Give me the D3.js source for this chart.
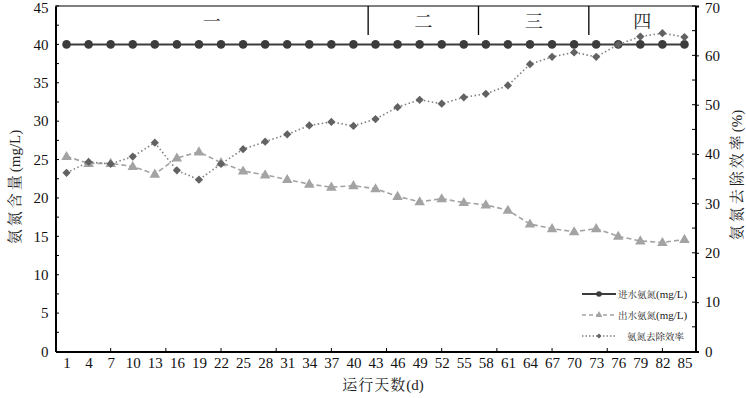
<!DOCTYPE html>
<html><head><meta charset="utf-8">
<script src="https://cdn.jsdelivr.net/npm/d3@7"></script>
<style>body{margin:0;background:#fff}svg{display:block}</style>
</head><body>
<svg id="c" width="746" height="398"></svg>
<script>
const days = [1,4,7,10,13,16,19,22,25,28,31,34,37,40,43,46,49,52,55,58,61,64,67,70,73,76,79,82,85];
const influent = [40,40,40,40,40,40,40,40,40,40,40,40,40,40,40,40,40,40,40,40,40,40,40,40,40,40,40,40,40];
const effluent = [25.4,24.5,24.5,24.1,23.1,25.2,26.0,24.6,23.5,23.0,22.4,21.8,21.4,21.6,21.2,20.2,19.5,19.9,19.4,19.1,18.4,16.6,16.0,15.6,16.0,15.0,14.4,14.2,14.6];
const efficiency = [36.2,38.4,38.0,39.5,42.3,36.7,34.8,38.0,41.0,42.5,44.0,45.8,46.5,45.7,47.1,49.5,51.0,50.2,51.5,52.2,53.9,58.2,59.7,60.6,59.7,62.2,63.8,64.5,63.7];
const leftTicks = [0,5,10,15,20,25,30,35,40,45];
const rightTicks = [0,10,20,30,40,50,60,70];
const phaseBounds = [42,57,72];
const phaseLabels = ["一","二","三","四"];
const legendLabels = [["进水氨氮","(mg/L)"],["出水氨氮","(mg/L)"],["氨氮去除效率",""]];
const xTitle = ["运行天数","(d)"];
const yLeftTitle = ["氨氮含量","(mg/L)"];
const yRightTitle = ["氨氮去除效率","(%)"];

const svg = d3.select("#c");
const L=55.5, R=695.5, T=6, B=351.5;
const serif = "'Liberation Serif','Noto Serif CJK SC','Noto Sans CJK SC',serif";
const x = d3.scaleLinear().domain([-0.5,86.5]).range([L,R]);
const yL = d3.scaleLinear().domain([0,45]).range([B,T]);
const yR = d3.scaleLinear().domain([0,70]).range([B,T]);

function twoPart(sel, parts, cjkSpacing, cjkSize, latSize){
  const a = sel.append("tspan").style("letter-spacing", cjkSpacing+"px").text(parts[0]);
  if(cjkSize) a.style("font-size", cjkSize+"px");
  const b = sel.append("tspan").text(parts[1]);
  if(latSize) b.style("font-size", latSize+"px");
}

// top border
svg.append("line").attr("x1",L).attr("x2",R).attr("y1",T).attr("y2",T).attr("stroke","#000").attr("stroke-width",1.2);

// phase separators and labels
const edges = [-0.5, ...phaseBounds, 86.5];
phaseBounds.forEach(d=>{
  svg.append("line").attr("x1",x(d)).attr("x2",x(d)).attr("y1",T).attr("y2",35).attr("stroke","#000").attr("stroke-width",1.3);
});
phaseLabels.forEach((t,i)=>{
  svg.append("text").attr("x",(x(edges[i])+x(edges[i+1]))/2).attr("y",28)
    .attr("text-anchor","middle").style("font-family",serif).style("font-size","18px").attr("fill","#222").text(t);
});

// left axis
const gL = svg.append("g").attr("transform",`translate(${L},0)`)
  .call(d3.axisLeft(yL).tickValues(leftTicks).tickSize(0).tickPadding(7));
gL.select(".domain").attr("stroke-width",2);
gL.selectAll("text").style("font-family",serif).style("font-size","15px").attr("fill","#111");
gL.selectAll(".tick").filter(d=>d===45).select("text").attr("dy","0.40em");
d3.range(0,45.01,2.5).forEach(v=>{
  svg.append("line").attr("x1",L).attr("x2",L+3.5).attr("y1",yL(v)).attr("y2",yL(v)).attr("stroke","#000").attr("stroke-width",1);
});

// right axis
const gR = svg.append("g").attr("transform",`translate(${R},0)`)
  .call(d3.axisRight(yR).tickValues(rightTicks).tickSize(3.5).tickPadding(6));
gR.select(".domain").attr("stroke-width",2);
gR.selectAll("text").style("font-family",serif).style("font-size","15px").attr("fill","#111");
gR.selectAll(".tick").filter(d=>d===70).select("text").attr("dy","0.40em");
d3.range(0,70.01,5).forEach(v=>{
  svg.append("line").attr("x1",R-3.5).attr("x2",R).attr("y1",yR(v)).attr("y2",yR(v)).attr("stroke","#000").attr("stroke-width",1);
});

// bottom axis
const gB = svg.append("g").attr("transform",`translate(0,${B})`)
  .call(d3.axisBottom(x).tickValues(days).tickSize(0).tickPadding(6).tickFormat(d3.format("d")));
gB.select(".domain").attr("stroke-width",2);
gB.selectAll("text").style("font-family",serif).style("font-size","15px").attr("fill","#111");
d3.range(1,12).forEach(k=>{
  const xv = x(-0.5+7.5*k);
  svg.append("line").attr("x1",xv).attr("x2",xv).attr("y1",B).attr("y2",B-3.5).attr("stroke","#000").attr("stroke-width",1);
});

// titles
twoPart(svg.append("text").attr("x",383).attr("y",390).attr("text-anchor","middle").style("font-family",serif).style("font-size","15px").attr("fill","#222"), xTitle, 1);
twoPart(svg.append("text").attr("transform","translate(20,187) rotate(-90)").attr("text-anchor","middle").style("font-family",serif).style("font-size","15px").attr("fill","#222"), yLeftTitle, 3);
twoPart(svg.append("text").attr("transform","translate(742,175) rotate(-90)").attr("text-anchor","middle").style("font-family",serif).style("font-size","15px").attr("fill","#222"), yRightTitle, 3);

// series
const cIn="#3c3c3c", cOut="#a3a3a3", cEffLine="#808080", cEff="#626262";
const lineL = d3.line().x((d,i)=>x(days[i])).y(d=>yL(d));
const lineR = d3.line().x((d,i)=>x(days[i])).y(d=>yR(d));
const tri = d3.symbol().type(d3.symbolTriangle).size(48);
const dia = d3.symbol().type(d3.symbolSquare).size(34);

svg.append("path").datum(influent).attr("d",lineL).attr("fill","none").attr("stroke",cIn).attr("stroke-width",2);
svg.append("g").selectAll("circle").data(influent).join("circle")
  .attr("cx",(d,i)=>x(days[i])).attr("cy",d=>yL(d)).attr("r",4.3).attr("fill",cIn);

svg.append("path").datum(effluent).attr("d",lineL).attr("fill","none").attr("stroke",cOut).attr("stroke-width",1.6).attr("stroke-dasharray","5,3");
svg.append("g").selectAll("path").data(effluent).join("path")
  .attr("d",tri).attr("transform",(d,i)=>`translate(${x(days[i])},${yL(d)+0.5})`).attr("fill",cOut);

svg.append("path").datum(efficiency).attr("d",lineR).attr("fill","none").attr("stroke",cEffLine).attr("stroke-width",1.6).attr("stroke-dasharray","1.5,2.5");
svg.append("g").selectAll("path").data(efficiency).join("path")
  .attr("d",dia).attr("transform",(d,i)=>`translate(${x(days[i])},${yR(d)}) rotate(45)`).attr("fill",cEff);

// legend
const lg = svg.append("g");
const rows = [294,315,336];
const styles = [
  {stroke:cIn, dash:null, w:2, mark:"c", fill:cIn},
  {stroke:cOut, dash:"4,3", w:1.6, mark:"t", fill:cOut},
  {stroke:cEffLine, dash:"1.5,2", w:1.6, mark:"d", fill:cEff}
];
legendLabels.forEach((t,i)=>{
  const y=rows[i], s=styles[i];
  lg.append("line").attr("x1",582).attr("x2",616).attr("y1",y).attr("y2",y).attr("stroke",s.stroke).attr("stroke-width",s.w).attr("stroke-dasharray",s.dash);
  if(s.mark==="c") lg.append("circle").attr("cx",599).attr("cy",y).attr("r",2.8).attr("fill",s.fill);
  if(s.mark==="t") lg.append("path").attr("d",d3.symbol().type(d3.symbolTriangle).size(20)).attr("transform",`translate(599,${y})`).attr("fill",s.fill);
  if(s.mark==="d") lg.append("path").attr("d",d3.symbol().type(d3.symbolSquare).size(12)).attr("transform",`translate(599,${y}) rotate(45)`).attr("fill",s.fill);
  const tx = lg.append("text").attr("x",i===2?627:618).attr("y",y+4).style("font-family",serif).style("font-size","11px").attr("fill","#222");
  twoPart(tx, t, 0, 9.5, 11);
});
</script>
</body></html>
